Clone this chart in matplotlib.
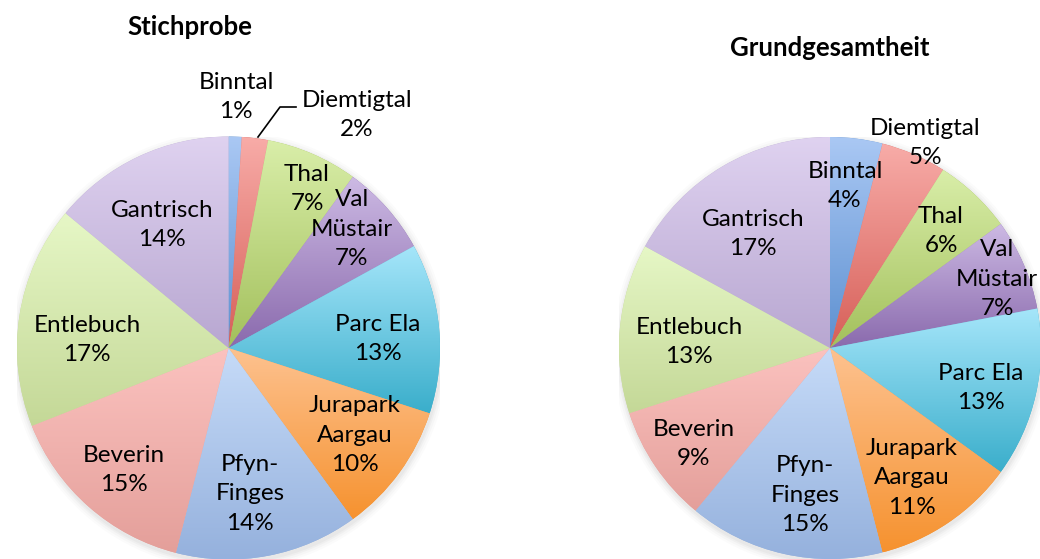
import numpy as np
import matplotlib
matplotlib.use("Agg")
import matplotlib.pyplot as plt
from matplotlib.colors import LinearSegmentedColormap, to_rgb

plt.rcParams['font.family'] = ['Lato', 'DejaVu Sans']

# ---------------- data ----------------
parks = ["Binntal", "Diemtigtal", "Thal", "Val\nMüstair", "Parc Ela",
         "Jurapark\nAargau", "Pfyn-\nFinges", "Beverin", "Entlebuch", "Gantrisch"]
sample_pct = [1, 2, 7, 7, 13, 10, 14, 15, 17, 14]
population_pct = [4, 5, 6, 7, 13, 11, 15, 9, 13, 17]
titles = ["Stichprobe", "Grundgesamtheit"]

# gradient colours (top, bottom) per slice
top_colors = ["#aac8f4", "#f8aca8", "#d9eea9", "#cdbae4", "#a6e6fa",
              "#fdc290", "#c6dbf8", "#fbc2bf", "#e6f7c6", "#dfd2f0"]
bottom_colors = ["#5d90d0", "#d65f58", "#a3c05c", "#8a6aad", "#3aaecb",
                 "#f6922f", "#95b1dd", "#e49f9a", "#c4d897", "#b8a7d1"]

W, H = 1040, 559
fig = plt.figure(figsize=(W / 100, H / 100), dpi=100)

# layout: pie centre / radius in pixels, label centres in pixels
pies = [
    dict(cx=228.5, cy=348, r=211.5, title_xy=(190, 27),
         label_xy=[(236, 97), (357, 115), (307, 189), (352, 229), (378, 339),
                   (355, 435), (250, 494), (124, 470), (87, 340), (162, 225)]),
    dict(cx=830, cy=348, r=211, title_xy=(830, 48),
         label_xy=[(845, 186), (925, 143), (941, 231), (997, 279), (981, 388),
                   (912, 478), (805, 495), (694, 444), (689, 342), (753, 234)]),
]
datasets = [sample_pct, population_pct]

for k, (p, vals) in enumerate(zip(pies, datasets)):
    cx, cy, r = p["cx"], p["cy"], p["r"]
    ax = fig.add_axes([(cx - r) / W, (H - cy - r) / H, 2 * r / W, 2 * r / H])
    # soft shadow
    for rr, a in [(1.035, 0.03), (1.025, 0.04), (1.015, 0.05), (1.007, 0.06)]:
        ax.add_patch(plt.Circle((0.004, -0.012), rr, color="#808080", alpha=a, lw=0, zorder=0))
    wedges, _ = ax.pie(vals, startangle=90, counterclock=False, radius=1,
                       wedgeprops=dict(linewidth=0, edgecolor="none"))
    for i, w in enumerate(wedges):
        w.set_facecolor(bottom_colors[i])
        w.set_zorder(1)
        path = w.get_path()
        ext = path.get_extents(w.get_patch_transform())
        cmap = LinearSegmentedColormap.from_list("g", [to_rgb(bottom_colors[i]), to_rgb(top_colors[i])])
        grad = np.linspace(0, 1, 256).reshape(-1, 1)
        im = ax.imshow(grad, cmap=cmap, origin="lower", aspect="auto",
                       extent=[ext.x0, ext.x1, ext.y0, ext.y1], zorder=2,
                       interpolation="bilinear")
        im.set_clip_path(w)
    ax.set_xlim(-1, 1)
    ax.set_ylim(-1, 1)
    ax.set_aspect("equal")
    ax.axis("off")

    for i, (name, v) in enumerate(zip(parks, vals)):
        px, py = p["label_xy"][i]
        fig.text(px / W, 1 - py / H, f"{name}\n{v}%", ha="center", va="center",
                 fontsize=17.5, linespacing=1.5, color="black", zorder=5)
    tx, ty = p["title_xy"]
    fig.text(tx / W, 1 - ty / H, titles[k], ha="center", va="center",
             fontsize=18.5, fontweight="bold", color="black")

# leader line for Diemtigtal (left pie)
fig.add_artist(plt.Line2D([258 / W, 280 / W, 296 / W],
                          [1 - 137 / H, 1 - 107 / H, 1 - 107 / H],
                          color="black", lw=1.2))

fig.savefig("out.png", dpi=100)
